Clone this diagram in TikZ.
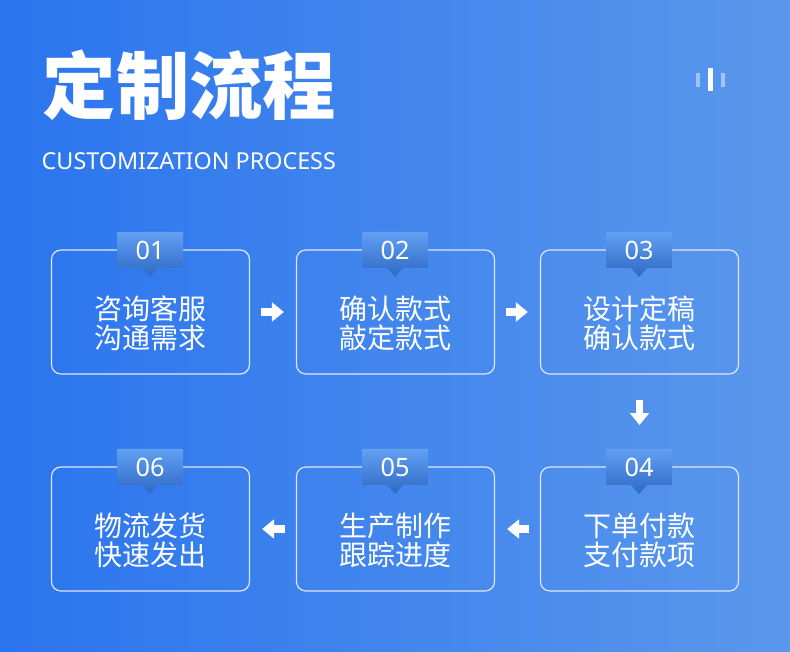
\documentclass[tikz,border=0pt]{standalone}
\usepackage{fontspec}
\setmainfont{Noto Sans CJK SC}
\newfontfamily\latinfont{Noto Sans}
\usetikzlibrary{arrows.meta,positioning}
\definecolor{bgLeft}{HTML}{2A74EE}
\definecolor{bgRight}{HTML}{5A98EC}
\definecolor{tabTop}{HTML}{62A0F2}
\definecolor{tabBottom}{HTML}{2E68C4}
\newcommand{\steptab}[3]{% x, y of tab centre, number
  \shade[top color=tabTop, bottom color=tabBottom]
    (#1-33,#2-18) -- (#1+33,#2-18) -- (#1+33,#2+18) -- (#1+8,#2+18)
    -- (#1,#2+27) -- (#1-8,#2+18) -- (#1-33,#2+18) -- cycle;
  \node[tabText] at (#1,#2) {#3};}
\begin{document}
\begin{tikzpicture}[x=0.75pt, y=-0.75pt,
    stepBox/.style = {draw=white!90!blue, line width=0.9pt, rounded corners=7pt,
      minimum width=148.5pt, minimum height=93pt, inner sep=0pt},
    stepText/.style = {text=white, align=center, yshift=-8.5pt,
      font=\fontsize{21pt}{21.5pt}\selectfont},
    tabText/.style = {text=white, font=\latinfont\fontsize{19pt}{20pt}\selectfont},
    flowArrow/.style = {white, line width=5.5pt, shorten <=8pt, shorten >=9pt,
      -{Triangle[length=9pt, width=14pt]}}]
  % background
  \shade[left color=bgLeft, right color=bgRight] (0,0) rectangle (790,652);
  \useasboundingbox (0,0) rectangle (790,652);
  % title
  \node[anchor=west, text=white, font=\bfseries\fontsize{55pt}{57pt}\selectfont] (title) at (38,85) {定制流程};
  \node[anchor=west, text=white, font=\latinfont\fontsize{17.5pt}{19pt}\selectfont] (subtitle) at (37,161) {CUSTOMIZATION PROCESS};
  % icon
  \fill[white, opacity=0.45] (696,73) rectangle (700,87);
  \fill[white] (708,68) rectangle (713,91);
  \fill[white, opacity=0.45] (721,73) rectangle (725,87);
  % steps
  \node[stepBox] (s1) at (150.5,312) {};
  \node[stepBox] (s2) at (395.5,312) {};
  \node[stepBox] (s3) at (639.5,312) {};
  \node[stepBox] (s4) at (639.5,529) {};
  \node[stepBox] (s5) at (395.5,529) {};
  \node[stepBox] (s6) at (150.5,529) {};
  \node[stepText] (t1) at (s1) {咨询客服\\沟通需求};
  \node[stepText] (t2) at (s2) {确认款式\\敲定款式};
  \node[stepText] (t3) at (s3) {设计定稿\\确认款式};
  \node[stepText] (t4) at (s4) {下单付款\\支付款项};
  \node[stepText] (t5) at (s5) {生产制作\\跟踪进度};
  \node[stepText] (t6) at (s6) {物流发货\\快速发出};
  \steptab{150}{250}{01}
  \steptab{395}{250}{02}
  \steptab{639}{250}{03}
  \steptab{639}{467}{04}
  \steptab{395}{467}{05}
  \steptab{150}{467}{06}
  % connectors
  \draw[flowArrow] (s1) -- (s2);
  \draw[flowArrow] (s2) -- (s3);
  \draw[flowArrow, shorten <=19pt, shorten >=31pt] (s3) -- (s4);
  \draw[flowArrow] (s4) -- (s5);
  \draw[flowArrow] (s5) -- (s6);
\end{tikzpicture}
\end{document}
